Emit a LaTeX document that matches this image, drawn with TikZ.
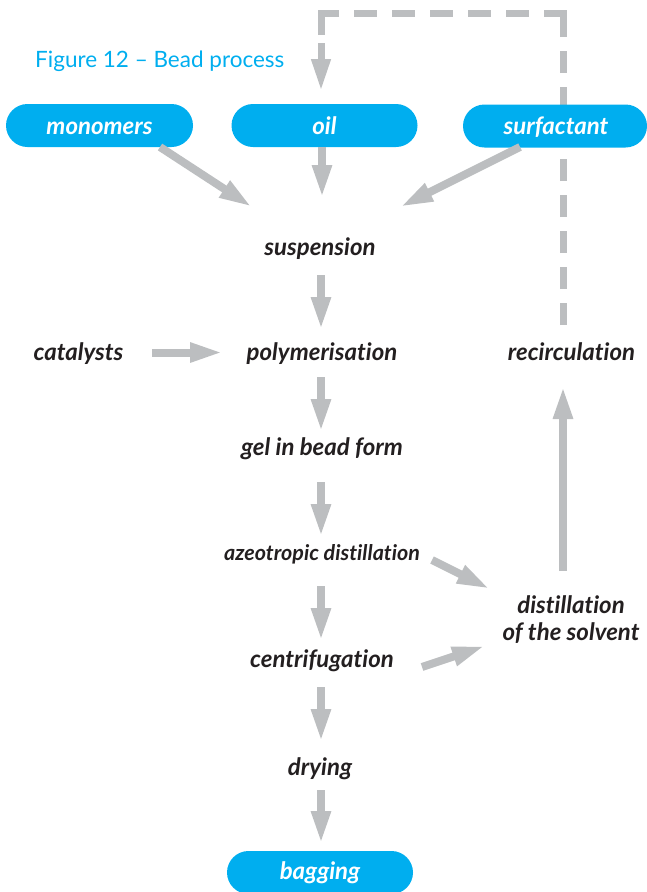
\documentclass[tikz,border=0pt]{standalone}
\usepackage{fontspec}
\setmainfont{Lato}[Ligatures=NoCommon]
\newfontfamily\titlefont{Lato}
\usetikzlibrary{arrows.meta}
\definecolor{cyanp}{HTML}{00AEEF}
\definecolor{agray}{HTML}{BCBEC0}
\definecolor{txt}{HTML}{231F20}
\pgfdeclarelayer{bg}
\pgfsetlayers{bg,main}
\begin{document}
\begin{tikzpicture}[x=1pt,y=-1pt,
  lbl/.style={font=\fontsize{24}{26.5}\selectfont\bfseries\itshape, text=txt, inner sep=0pt, anchor=base},
  smalllbl/.style={lbl, font=\fontsize{21.5}{22}\selectfont\bfseries\itshape},
  pill/.style={fill=cyanp, rounded corners=21.5pt, minimum width=186pt, minimum height=43pt, inner sep=0pt},
  pilltext/.style={text=white, font=\fontsize{24}{25}\selectfont\bfseries\itshape, inner sep=0pt, anchor=base},
  garrow/.style={draw=agray, line width=8pt, -{Triangle[length=33pt,width=18pt]}},
  dline/.style={draw=agray, line width=7pt},
  darrow/.style={draw=agray, line width=7pt, -{Triangle[length=32pt,width=18pt]}}]
\useasboundingbox (0,0) rectangle (647,892);

% title
\node[anchor=base west, inner sep=0pt, text=cyanp, font=\titlefont\fontsize{22.5}{24}\selectfont] (title) at (35,67) {Figure 12 \textendash{} Bead process};

% pills
\node[pill, minimum width=187pt] (mono) at (99.5,125.5) {};
\node[pilltext] (monot) at (99.5,134) {monomers};
\node[pill] (oil) at (324.5,125.5) {};
\node[pilltext] (oilt) at (324.5,134) {oil};
\node[pill, minimum width=184pt] (surf) at (555,126) {};
\node[pilltext] (surft) at (556,134) {surfactant};
\node[pill] (bag) at (320,872.5) {};
\node[pilltext] (bagt) at (320,879) {bagging};

% labels
\node[lbl] (susp) at (320,255) {suspension};
\node[lbl] (cat) at (78.5,360) {catalysts};
\node[lbl] (poly) at (322,360) {polymerisation};
\node[lbl] (recirc) at (571.5,360) {recirculation};
\node[lbl] (gel) at (322,455) {gel in bead form};
\node[smalllbl] (azeo) at (322,560) {azeotropic distillation};
\node[lbl, align=center] (dist) at (571,640) {distillation\\of the solvent};
\node[lbl] (centri) at (322,667) {centrifugation};
\node[lbl] (dry) at (320,775) {drying};

% connector end points
\coordinate (mo1) at (160,147); \coordinate (mo2) at (252,207);
\coordinate (oi1) at (322,147); \coordinate (oi2) at (322,198);
\coordinate (su1) at (520,147); \coordinate (su2) at (400,207);
\coordinate (sp1) at (321,275); \coordinate (sp2) at (321,330);
\coordinate (ca1) at (152,352.5); \coordinate (ca2) at (223,352.5);
\coordinate (po1) at (321,377); \coordinate (po2) at (321,432);
\coordinate (ge1) at (321,482); \coordinate (ge2) at (321,537);
\coordinate (az1) at (321,586); \coordinate (az2) at (321,641);
\coordinate (az3) at (432,560); \coordinate (az4) at (490,589);
\coordinate (ce1) at (321,687); \coordinate (ce2) at (321,742);
\coordinate (ce3) at (422,667); \coordinate (ce4) at (485,646);
\coordinate (dr1) at (321,790); \coordinate (dr2) at (321,844);
\coordinate (di1) at (563,571); \coordinate (di2) at (563,386);
\coordinate (rc1) at (563,325); \coordinate (rc2) at (563,37);
\coordinate (rc3) at (563,13.5); \coordinate (rc4) at (544,13.5);
\coordinate (rc5) at (339,13.5); \coordinate (rc6) at (321,13.5);
\coordinate (rc7) at (321,35); \coordinate (rc8) at (321,43); \coordinate (rc9) at (321,91);

% recirculation dashed connector (behind pills)
\begin{pgfonlayer}{bg}
\draw[dline, dash pattern=on 22pt off 14pt] (rc1) -- (rc2);
\draw[dline, miter limit=10] (rc2) -- (rc3) -- (rc4);
\draw[dline, dash pattern=on 22.5pt off 15.5pt, dash phase=22.5pt] (rc4) -- (rc5);
\draw[dline, miter limit=10] (rc5) -- (rc6) -- (rc7);
\draw[darrow] (rc8) -- (rc9);
\end{pgfonlayer}

% arrows
\draw[garrow] (mo1) -- (mo2);
\draw[garrow] (oi1) -- (oi2);
\draw[garrow] (su1) -- (su2);
\draw[garrow] (sp1) -- (sp2);
\draw[garrow] (ca1) -- (ca2);
\draw[garrow] (po1) -- (po2);
\draw[garrow] (ge1) -- (ge2);
\draw[garrow] (az1) -- (az2);
\draw[garrow] (az3) -- (az4);
\draw[garrow] (ce1) -- (ce2);
\draw[garrow] (ce3) -- (ce4);
\draw[garrow] (dr1) -- (dr2);
\draw[garrow] (di1) -- (di2);
\end{tikzpicture}
\end{document}
